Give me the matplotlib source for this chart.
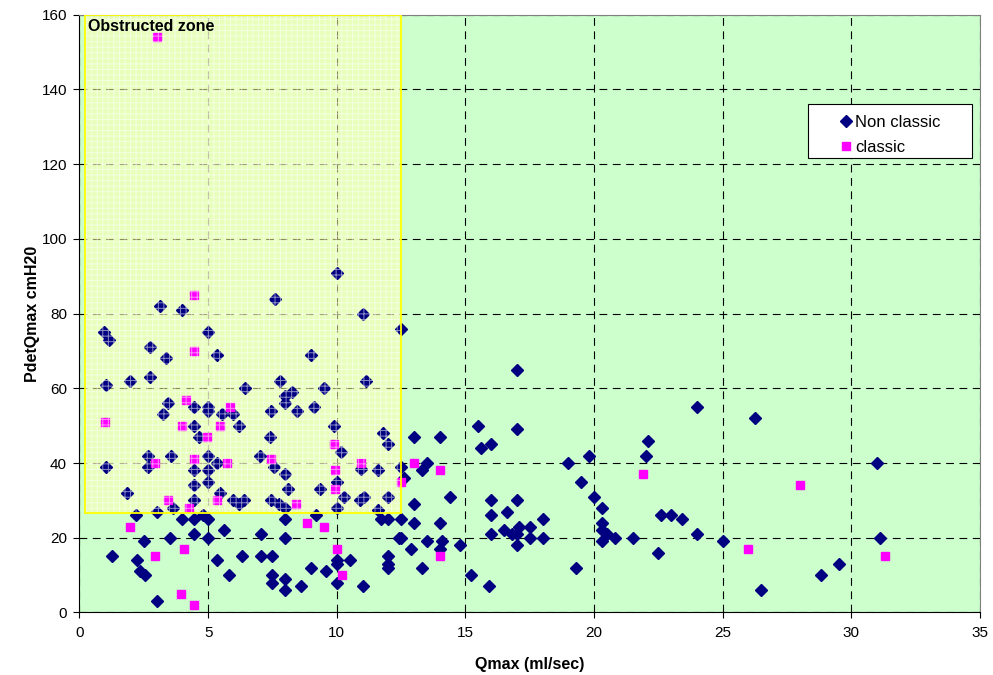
import numpy as np
import matplotlib
matplotlib.use("Agg")
import matplotlib.pyplot as plt
from matplotlib.patches import Rectangle

plt.rcParams['font.family'] = ['Liberation Sans', 'DejaVu Sans']
plt.rcParams['hatch.linewidth'] = 0.7

# Non classic (diamonds)
nc_x = [17, 15.5, 17, 15.6, 16, 13, 14, 13.5, 13.3, 12.5, 12.6, 14.4, 13, 12.5, 13, 14,
        12.5, 13.5, 14.1, 14, 12.9, 14.8, 13.3, 15.2, 15.9, 16, 17, 16, 16.6, 18, 16, 16.5,
        16.8, 17.1, 17, 17.5, 17.5, 18, 17, 19, 19.8, 19.5, 20, 20.3, 20.3, 20.3, 20.5, 20.8,
        20.3, 21.5, 19.3, 22.1, 22, 22.6, 23, 23.4, 22.5, 24, 24, 26.25, 31, 25, 26.5, 28.8,
        29.5, 31.1,
        2.2, 3, 4, 4.45, 4.8, 5, 5.6, 4.45, 5, 3.5, 2.5, 1.25, 2.25, 2.35, 2.55, 3, 5.35, 6.3,
        5.8, 8, 9.2, 11.7, 12, 7.05, 8, 12.4, 7.05, 7.5, 10, 10, 10.5, 9, 9.6, 12, 12, 12,
        7.5, 7.5, 8, 8, 8.6, 10, 11,
        3.15, 4, 0.95, 1.15, 5, 2.75, 3.35, 5.35, 1.05, 1.95, 2.75, 6.45, 3.45, 4.45, 3.25, 5,
        5, 5.55, 5.95, 4.45, 6.2, 4.65, 2.65, 3.55, 5, 2.65, 5.35, 1.05, 4.45, 5, 5, 4.45,
        1.85, 5.45, 4.45, 5.95, 6.2, 6.4, 3.65,
        10, 7.6, 11, 12.5, 9, 7.8, 11.15, 9.5, 8.25, 8, 8, 7.45, 8.45, 9.1, 9.9, 11.8, 12,
        7.4, 10.15, 7, 7.55, 10.95, 11.6, 8, 10, 8.1, 9.35, 12, 10.3, 10.9, 11.05, 7.45,
        7.75, 8, 10, 11.6]
nc_y = [65, 50, 49, 44, 45, 47, 47, 40, 38, 39, 36, 31, 29, 25, 24, 24,
        20, 19, 19, 17, 17, 18, 12, 10, 7, 30, 30, 26, 27, 25, 21, 22,
        21, 23, 21, 23, 20, 20, 18, 40, 42, 35, 31, 28, 24, 22, 21, 20,
        19, 20, 12, 46, 42, 26, 26, 25, 16, 55, 21, 52, 40, 19, 6, 10,
        13, 20,
        26, 27, 25, 25, 26, 25, 22, 21, 20, 20, 19, 15, 14, 11, 10, 3, 14, 15,
        10, 25, 26, 25, 25, 21, 20, 20, 15, 15, 14, 13, 14, 12, 11, 15, 13, 12,
        10, 8, 9, 6, 7, 8, 7,
        82, 81, 75, 73, 75, 71, 68, 69, 61, 62, 63, 60, 56, 55, 53, 55,
        54, 53, 53, 50, 50, 47, 42, 42, 42, 39, 40, 39, 38, 38, 35, 34,
        32, 32, 30, 30, 29, 30, 28,
        91, 84, 80, 76, 69, 62, 62, 60, 59, 58, 56, 54, 54, 55, 50, 48, 45,
        47, 43, 42, 39, 38.5, 38, 37, 35, 33, 33, 31, 31, 30, 31, 30,
        29, 28, 28, 27.5]

# classic (squares)
cl_x = [3, 4.45, 4.45, 4.15, 1, 4, 5.85, 5.45, 4.95, 4.45, 2.95, 5.75, 3.45, 5.35, 4.25,
        9.9, 7.45, 9.95, 10.95, 9.95, 8.4, 12.5, 13, 14, 14, 21.9, 28, 26, 31.3,
        1.95, 4.05, 2.95, 3.95, 4.45, 8.85, 9.5, 10, 10.2]
cl_y = [154, 85, 70, 57, 51, 50, 55, 50, 47, 41, 40, 40, 30, 30, 28,
        45, 41, 38, 40, 33, 29, 35, 40, 38, 15, 37, 34, 17, 15,
        23, 17, 15, 5, 2, 24, 23, 17, 10]

fig = plt.figure(figsize=(9.93, 6.75), dpi=100)
ax = fig.add_axes([0.080, 0.0927, 0.907, 0.8854])
ax.set_facecolor('#CCFFCC')

ax.plot(nc_x, nc_y, linestyle='none', marker='D', ms=5.8, color='#000080',
        label='Non classic', zorder=3)
ax.plot(cl_x, cl_y, linestyle='none', marker='s', ms=6.2, color='#FF00FF',
        label='classic', zorder=3)

# obstructed zone: tint under the points, pattern over them
zone = (0.2, 26.5, 12.3, 133.5)
ax.add_patch(Rectangle(zone[:2], zone[2], zone[3], facecolor=(1, 1, 0.68, 0.55),
                       linewidth=0, zorder=1.5))
ax.add_patch(Rectangle(zone[:2], zone[2], zone[3], facecolor='none',
                       edgecolor=(1, 1, 1, 0.55), hatch='+++', linewidth=0, zorder=4))
ax.add_patch(Rectangle(zone[:2], zone[2], zone[3], facecolor='none',
                       edgecolor='yellow', linewidth=1.3, zorder=5))
ax.text(0.35, 158.8, 'Obstructed zone', fontsize=11.5, fontweight='bold',
        va='top', ha='left', zorder=6)

ax.set_xlim(0, 35)
ax.set_ylim(0, 160)
ax.set_xticks(np.arange(0, 36, 5))
ax.set_yticks(np.arange(0, 161, 20))
ax.grid(True, color='black', linestyle=(0, (7, 5)), linewidth=0.8, zorder=1)
ax.set_axisbelow(True)
ax.tick_params(axis='x', labelsize=11, direction='out', length=4, pad=6)
ax.tick_params(axis='y', labelsize=11, direction='out', length=4, pad=5)

for s in ['top', 'right']:
    ax.spines[s].set_color('#808080')

ax.set_xlabel('Qmax (ml/sec)', fontsize=11.5, fontweight='bold', labelpad=12)
ax.set_ylabel('PdetQmax cmH20', fontsize=11.5, fontweight='bold', labelpad=1)

# legend box drawn separately so the padding can match
ax.add_patch(Rectangle((0.809, 0.7604), 0.1821, 0.0904, transform=ax.transAxes,
                       facecolor='white', edgecolor='black', linewidth=0.8, zorder=6))
leg = ax.legend(loc='upper left', bbox_to_anchor=(0.8438, 0.833), fontsize=12,
                frameon=False, handlelength=0.8, handletextpad=0.15, borderpad=0,
                labelspacing=0.6, borderaxespad=0)
leg.set_zorder(7)

fig.savefig('out.png', dpi=100)
